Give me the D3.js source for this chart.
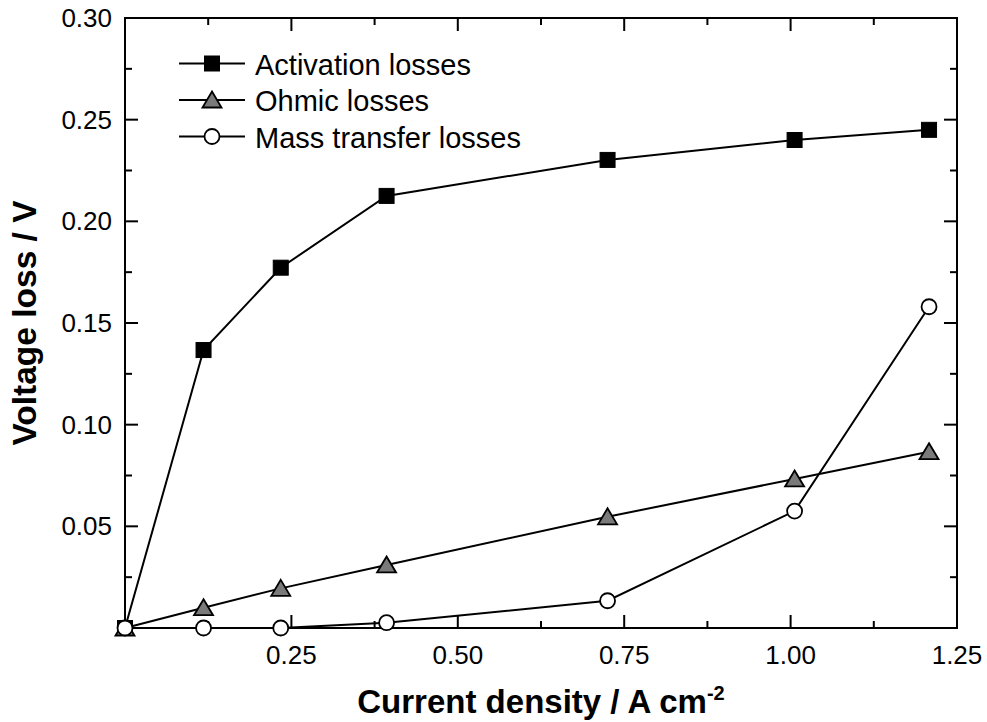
<!DOCTYPE html>
<html>
<head>
<meta charset="utf-8">
<script src="https://cdn.jsdelivr.net/npm/d3@7"></script>
<style>
  html, body { margin: 0; padding: 0; background: #fff; }
  svg { display: block; }
  text { font-family: "Liberation Sans", Arial, Helvetica, sans-serif; fill: #000; }
</style>
</head>
<body>
<svg id="chart" width="987" height="722"></svg>
<script>
// Current density (A cm^-2) at each measured operating point
const currentDensity = [0, 0.118, 0.234, 0.393, 0.725, 1.006, 1.208];
// Voltage losses (V) for each loss mechanism
const activationLosses = [0, 0.1367, 0.1772, 0.2125, 0.2302, 0.2400, 0.2450];
const ohmicLosses      = [0, 0.0100, 0.0195, 0.0310, 0.0547, 0.0733, 0.0867];
const massTransferLosses = [0, 0.0000, 0.0000, 0.0026, 0.0134, 0.0575, 0.1580];
const seriesNames = ["Activation losses", "Ohmic losses", "Mass transfer losses"];
const xTickValues = [0.25, 0.50, 0.75, 1.00, 1.25];
const yTickValues = [0.05, 0.10, 0.15, 0.20, 0.25, 0.30];

const svg = d3.select("#chart");
const m = { left: 125, right: 957, top: 18, bottom: 628 };

const x = d3.scaleLinear().domain([0, 1.25]).range([m.left, m.right]);
const y = d3.scaleLinear().domain([0, 0.30]).range([m.bottom, m.top]);

const majorLen = 13, minorLen = 7;
const xMinor = d3.range(0.125, 1.25, 0.25);
const yMinor = d3.range(0.025, 0.30, 0.05);
const xMajor = d3.range(0.25, 1.2501, 0.25);
const yMajor = d3.range(0.05, 0.3001, 0.05);

// Inward ticks on all four sides
const ticks = svg.append("g").attr("stroke", "#000").attr("stroke-width", 2);
function vTicks(vals, len) {
  vals.forEach(v => {
    ticks.append("line").attr("x1", x(v)).attr("x2", x(v)).attr("y1", m.bottom).attr("y2", m.bottom - len);
    ticks.append("line").attr("x1", x(v)).attr("x2", x(v)).attr("y1", m.top).attr("y2", m.top + len);
  });
}
function hTicks(vals, len) {
  vals.forEach(v => {
    ticks.append("line").attr("y1", y(v)).attr("y2", y(v)).attr("x1", m.left).attr("x2", m.left + len);
    ticks.append("line").attr("y1", y(v)).attr("y2", y(v)).attr("x1", m.right).attr("x2", m.right - len);
  });
}
vTicks(xMajor, majorLen); vTicks(xMinor, minorLen);
hTicks(yMajor, majorLen); hTicks(yMinor, minorLen);

// Frame
svg.append("rect")
  .attr("x", m.left).attr("y", m.top)
  .attr("width", m.right - m.left).attr("height", m.bottom - m.top)
  .attr("fill", "none").attr("stroke", "#000").attr("stroke-width", 2);

// Tick labels
svg.append("g").selectAll("text").data(xTickValues).join("text")
  .attr("x", d => x(d)).attr("y", 664)
  .attr("text-anchor", "middle").attr("font-size", 26)
  .text(d => d3.format(".2f")(d));
svg.append("g").selectAll("text").data(yTickValues).join("text")
  .attr("x", 112).attr("y", d => y(d) + 9)
  .attr("text-anchor", "end").attr("font-size", 26)
  .text(d => d3.format(".2f")(d));

// Axis titles
const xt = svg.append("text")
  .attr("x", (m.left + m.right) / 2).attr("y", 713)
  .attr("text-anchor", "middle").attr("font-size", 33).attr("font-weight", "bold");
xt.append("tspan").text("Current density / A cm");
xt.append("tspan").attr("font-size", 20).attr("dy", -13).text("-2");

svg.append("text")
  .attr("transform", `translate(36,${(m.top + m.bottom) / 2}) rotate(-90)`)
  .attr("text-anchor", "middle").attr("font-size", 33.5).attr("font-weight", "bold")
  .text("Voltage loss / V");

// Series
const seriesValues = [activationLosses, ohmicLosses, massTransferLosses];
const markerStyles = [
  { shape: "square", fill: "#000" },
  { shape: "triangle", fill: "#7a7a7a" },
  { shape: "circle", fill: "#fff" }
];

function drawMarker(g, shape, fill, cx, cy) {
  if (shape === "square") {
    g.append("rect").attr("x", cx - 7.5).attr("y", cy - 7.5).attr("width", 15).attr("height", 15)
      .attr("fill", fill).attr("stroke", "#000").attr("stroke-width", 1);
  } else if (shape === "triangle") {
    g.append("path")
      .attr("d", `M${cx},${cy - 8.5}L${cx + 9.5},${cy + 7.5}L${cx - 9.5},${cy + 7.5}Z`)
      .attr("fill", fill).attr("stroke", "#000").attr("stroke-width", 1.8).attr("stroke-linejoin", "miter");
  } else {
    g.append("circle").attr("cx", cx).attr("cy", cy).attr("r", 7.5)
      .attr("fill", fill).attr("stroke", "#000").attr("stroke-width", 1.8);
  }
}

const line = d3.line().x(d => x(d[0])).y(d => y(d[1]));
const plot = svg.append("g");
seriesValues.forEach(vals => {
  const pts = currentDensity.map((c, i) => [c, vals[i]]);
  plot.append("path").datum(pts).attr("d", line)
    .attr("fill", "none").attr("stroke", "#000").attr("stroke-width", 2);
});
seriesValues.forEach((vals, s) => {
  const g = plot.append("g");
  currentDensity.forEach((c, i) => drawMarker(g, markerStyles[s].shape, markerStyles[s].fill, x(c), y(vals[i])));
});

// Legend
const legendRows = [63.5, 100, 136.5];
const legend = svg.append("g");
seriesNames.forEach((name, i) => {
  const ly = legendRows[i];
  legend.append("line").attr("x1", 179).attr("x2", 245).attr("y1", ly).attr("y2", ly)
    .attr("stroke", "#000").attr("stroke-width", 2);
  drawMarker(legend, markerStyles[i].shape, markerStyles[i].fill, 212, ly);
  legend.append("text").attr("x", 255).attr("y", ly + 11).attr("font-size", 29).text(name);
});
</script>
</body>
</html>
